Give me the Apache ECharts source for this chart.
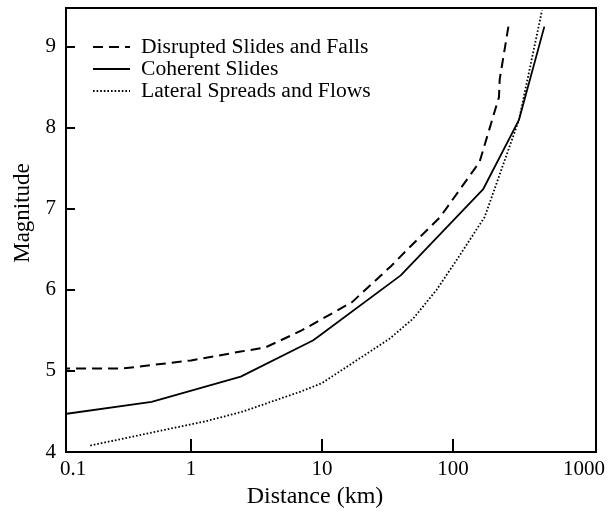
<!DOCTYPE html>
<html>
<head>
<meta charset="utf-8">
<script src="https://cdn.jsdelivr.net/npm/echarts@6/dist/echarts.min.js"></script>
<style>html,body{margin:0;padding:0;background:#fff}#c{width:608px;height:514px}</style>
</head>
<body>
<div id="c"></div>
<script>
// Series names
const seriesNames = ['Disrupted Slides and Falls', 'Coherent Slides', 'Lateral Spreads and Flows'];

// Disrupted Slides and Falls (dashed)
const disruptedDist = [0.1, 0.3, 1, 2.4, 3.7, 7, 17, 34, 45, 80, 160, 225, 228, 270];
const disruptedMag  = [5.03, 5.03, 5.13, 5.24, 5.29, 5.5, 5.85, 6.3, 6.5, 6.9, 7.58, 8.38, 8.6, 9.32];

// Coherent Slides (solid)
const coherentDist = [0.1, 0.5, 2.4, 8.6, 40, 170, 320, 500];
const coherentMag  = [4.46, 4.62, 4.93, 5.38, 6.18, 7.24, 8.1, 9.25];

// Lateral Spreads and Flows (dotted)
const lateralDist = [0.17, 1.3, 2.5, 7, 10, 33, 50, 75, 110, 175, 320, 480];
const lateralMag  = [4.08, 4.38, 4.5, 4.75, 4.85, 5.4, 5.65, 6.0, 6.4, 6.9, 8.1, 9.45];

// Axis ticks / labels
const xLabelValues = [0.1, 1, 10, 100, 1000];
const xTickValues = [1, 10, 100];
const yLabelValues = [4, 5, 6, 7, 8, 9];
const yTickValues = [5, 6, 7, 8, 9];

const FONT = "'Liberation Serif', 'Times New Roman', serif";
const pairs = (xs, ys) => xs.map((x, i) => [x, ys[i]]);

const chart = echarts.init(document.getElementById('c'), null, {renderer: 'canvas'});
chart.setOption({
  animation: false,
  backgroundColor: '#fff',
  textStyle: {fontFamily: FONT, color: '#000'},
  grid: [
    {left: 66, right: 12, top: 8, bottom: 62, show: true, borderColor: '#000', borderWidth: 2, backgroundColor: 'transparent'},
    {left: 60, right: 24, top: 8, bottom: 62, show: false}
  ],
  legend: {
    orient: 'vertical', left: 92, top: 36, padding: 0, itemWidth: 37, itemHeight: 14, itemGap: 0,
    itemStyle: {opacity: 0},
    textStyle: {fontFamily: FONT, fontSize: 21.6, color: '#000', lineHeight: 22, padding: [0, 0, 0, 6]},
    data: seriesNames
  },
  xAxis: [
    {
      type: 'log', logBase: 10, gridIndex: 0, min: 0.111, max: 1240,
      axisLine: {show: false},
      axisTick: {show: true, inside: true, length: 13, lineStyle: {color: '#000', width: 2}, customValues: xTickValues},
      axisLabel: {show: false},
      splitLine: {show: false}
    },
    {
      type: 'log', logBase: 10, gridIndex: 1, min: 0.1, max: 1000,
      axisLine: {show: false}, axisTick: {show: false}, splitLine: {show: false},
      axisLabel: {show: true, margin: 10, fontSize: 21, fontFamily: FONT, color: '#000', customValues: xLabelValues,
        alignMinLabel: 'left', formatter: v => String(+(+v).toPrecision(6))},
      name: 'Distance (km)', nameLocation: 'middle', nameGap: 36,
      nameTextStyle: {fontSize: 24, fontFamily: FONT, color: '#000', padding: [0, 14, 0, 0]}
    }
  ],
  yAxis: [
    {
      type: 'value', gridIndex: 0, min: 4, max: 9.48, interval: 1,
      axisLine: {show: false},
      axisTick: {show: true, inside: true, length: 9, lineStyle: {color: '#000', width: 2}, customValues: yTickValues},
      axisLabel: {show: true, margin: 10, fontSize: 21, fontFamily: FONT, color: '#000', customValues: yLabelValues, padding: [12, 0, 0, 0]},
      splitLine: {show: false},
      name: 'Magnitude', nameLocation: 'middle', nameGap: 31, nameRotate: 90,
      nameTextStyle: {fontSize: 23, fontFamily: FONT, color: '#000', padding: [0, 0, 0, 34]}
    },
    {type: 'value', gridIndex: 1, min: 4, max: 9.48, show: false}
  ],
  series: [
    {name: seriesNames[0], type: 'line', xAxisIndex: 0, yAxisIndex: 0, symbol: 'none', color: '#000',
      lineStyle: {color: '#000', width: 2, type: [10, 6]}, data: pairs(disruptedDist, disruptedMag)},
    {name: seriesNames[1], type: 'line', xAxisIndex: 0, yAxisIndex: 0, symbol: 'none', color: '#000',
      lineStyle: {color: '#000', width: 1.8, type: 'solid'}, data: pairs(coherentDist, coherentMag)},
    {name: seriesNames[2], type: 'line', xAxisIndex: 0, yAxisIndex: 0, symbol: 'none', color: '#000',
      lineStyle: {color: '#000', width: 1.8, type: [1.6, 2]}, data: pairs(lateralDist, lateralMag)}
  ]
});
</script>
</body>
</html>
